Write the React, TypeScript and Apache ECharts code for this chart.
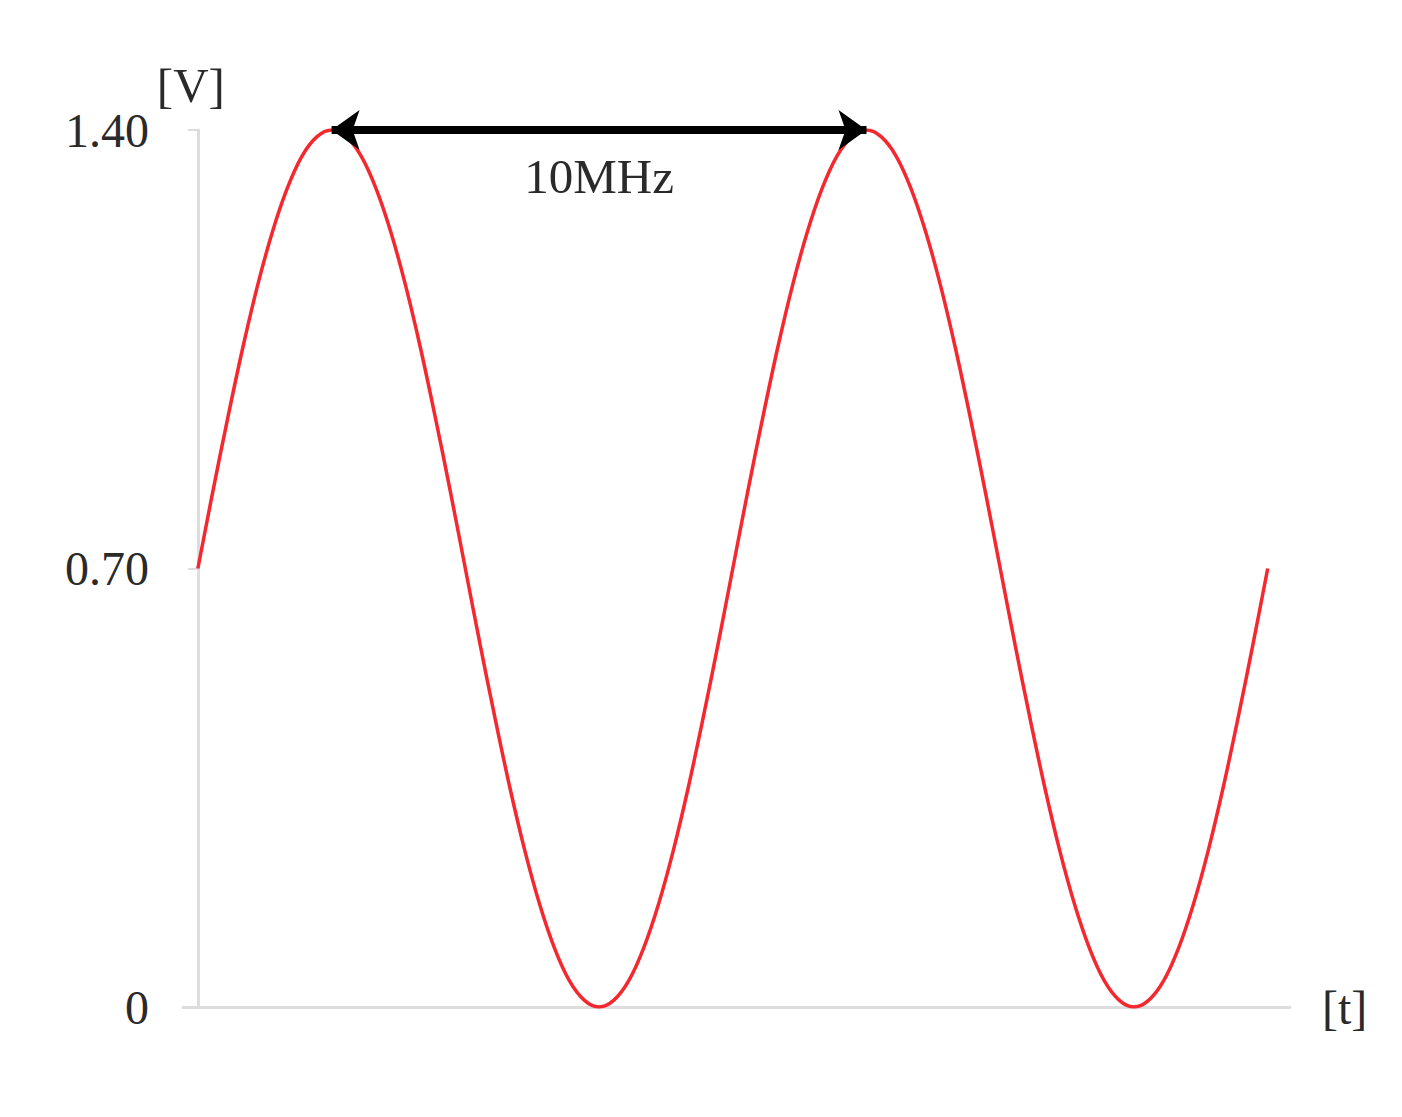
import React, { useEffect, useRef } from "react";
import * as echarts from "echarts";

// phase in degrees (t axis) and voltage, one cycle = 360
const phaseDeg = [
  0, 10, 20, 30, 40, 50, 60, 70, 80, 90, 100, 110, 120, 130, 140, 150, 160, 170,
  180, 190, 200, 210, 220, 230, 240, 250, 260, 270, 280, 290, 300, 310, 320, 330, 340, 350,
  360, 370, 380, 390, 400, 410, 420, 430, 440, 450, 460, 470, 480, 490, 500, 510, 520, 530,
  540, 550, 560, 570, 580, 590, 600, 610, 620, 630, 640, 650, 660, 670, 680, 690, 700, 710, 720,
];
const voltage = [
  0.7, 0.822, 0.939, 1.05, 1.15, 1.236, 1.306, 1.358, 1.389, 1.4, 1.389, 1.358, 1.306, 1.236, 1.15, 1.05, 0.939, 0.822,
  0.7, 0.578, 0.461, 0.35, 0.25, 0.164, 0.094, 0.042, 0.011, 0.0, 0.011, 0.042, 0.094, 0.164, 0.25, 0.35, 0.461, 0.578,
  0.7, 0.822, 0.939, 1.05, 1.15, 1.236, 1.306, 1.358, 1.389, 1.4, 1.389, 1.358, 1.306, 1.236, 1.15, 1.05, 0.939, 0.822,
  0.7, 0.578, 0.461, 0.35, 0.25, 0.164, 0.094, 0.042, 0.011, 0.0, 0.011, 0.042, 0.094, 0.164, 0.25, 0.35, 0.461, 0.578, 0.7,
];
const yTicks = [0, 0.7, 1.4];
const arrowFrom = [90, 1.4];
const arrowTo = [450, 1.4];
const arrowLabel = "10MHz";

const FONT = '"Liberation Serif", "Times New Roman", serif';

export default function App() {
  const ref = useRef<HTMLDivElement>(null);
  useEffect(() => {
    document.body.style.margin = "0";
    const chart = echarts.init(ref.current!, null, { renderer: "svg" });
    chart.setOption({
      animation: false,
      backgroundColor: "#ffffff",
      grid: { left: 183, right: 112, top: 130, bottom: 110 },
      xAxis: {
        type: "value",
        min: -10,
        max: 735,
        name: "[t]",
        nameLocation: "end",
        nameGap: 32,
        nameTextStyle: { fontFamily: FONT, fontSize: 48, color: "#2a2a2a" },
        axisLine: { show: true, lineStyle: { color: "#dddddd", width: 3 } },
        axisTick: { show: false },
        axisLabel: { show: false },
        splitLine: { show: false },
      },
      yAxis: {
        type: "value",
        min: 0,
        max: 1.4,
        interval: 0.7,
        name: "[V]",
        nameLocation: "end",
        nameGap: 20,
        nameTextStyle: { fontFamily: FONT, fontSize: 49, color: "#2a2a2a", padding: [0, 14, 0, 0] },
        axisLine: { show: true, onZero: true, lineStyle: { color: "#dddddd", width: 3 } },
        axisTick: { show: true, length: 10, lineStyle: { color: "#dddddd", width: 2 } },
        axisLabel: {
          fontFamily: FONT,
          fontSize: 48,
          color: "#2a2a2a",
          margin: 34,
          formatter: (v: number) => {
            const t = yTicks.find((x) => Math.abs(x - v) < 1e-6);
            return t === undefined ? "" : t === 0 ? "0" : t.toFixed(2);
          },
        },
        splitLine: { show: false },
      },
      series: [
        {
          type: "line",
          data: phaseDeg.map((p, i) => [p, voltage[i]]),
          smooth: 0.35,
          showSymbol: false,
          lineStyle: { color: "#f4282e", width: 3.5 },
          silent: true,
          markLine: {
            silent: true,
            symbol: ["arrow", "arrow"],
            symbolSize: [30, 28],
            lineStyle: { color: "#000", width: 8, type: "solid" },
            label: {
              show: true,
              position: "insideMiddleBottom",
              distance: 22,
              formatter: arrowLabel,
              fontFamily: FONT,
              fontSize: 49,
              color: "#2a2a2a",
            },
            emphasis: { disabled: true },
            data: [[{ coord: arrowFrom }, { coord: arrowTo }]],
          },
        },
      ],
    });
    return () => chart.dispose();
  }, []);
  return <div ref={ref} style={{ width: 1402, height: 1117 }} />;
}
